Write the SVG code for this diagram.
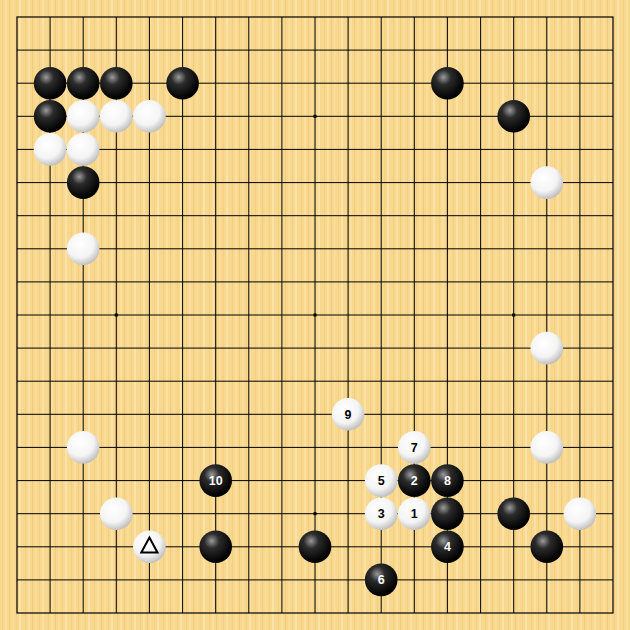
<svg xmlns="http://www.w3.org/2000/svg" width="630" height="630" viewBox="0 0 630 630">
<defs>
<pattern id="wood" x="0" y="0" width="23" height="630" patternUnits="userSpaceOnUse">
<rect width="23" height="630" fill="#F8D88E"/>
<rect x="2" width="1" height="630" fill="#F4CF7C"/>
<rect x="5" width="2" height="630" fill="#FADFA0"/>
<rect x="9" width="1" height="630" fill="#F3CC78"/>
<rect x="12" width="2" height="630" fill="#F9DC98"/>
<rect x="16" width="1" height="630" fill="#F5D080"/>
<rect x="19" width="2" height="630" fill="#FBE2A6"/>
</pattern>
<radialGradient id="gb" cx="0.38" cy="0.32" r="0.65">
<stop offset="0" stop-color="#9a9a9a"/>
<stop offset="0.35" stop-color="#2c2c2c"/>
<stop offset="1" stop-color="#000"/>
</radialGradient>
<radialGradient id="gw" cx="0.4" cy="0.35" r="0.7">
<stop offset="0" stop-color="#ffffff"/>
<stop offset="0.6" stop-color="#f4f4f4"/>
<stop offset="1" stop-color="#b8b8b8"/>
</radialGradient>
<circle id="b" r="16.3" fill="url(#gb)"/>
<circle id="w" r="16.3" fill="url(#gw)"/>
</defs>
<style>
.grid line{stroke:#000;stroke-width:1}
.lb{font-family:"Liberation Sans",Arial,sans-serif;font-size:12.5px;font-weight:bold;text-anchor:middle}
.onb{fill:#fff}
.onw{fill:#000}
</style>
<rect width="630" height="630" fill="url(#wood)"/>
<g id="connectors" class="grid">
<rect x="17" y="17" width="596" height="596" fill="none" stroke="#000" stroke-width="1.2"/>
<line x1="50.1" y1="17" x2="50.1" y2="613"/><line x1="83.2" y1="17" x2="83.2" y2="613"/><line x1="116.3" y1="17" x2="116.3" y2="613"/><line x1="149.4" y1="17" x2="149.4" y2="613"/><line x1="182.6" y1="17" x2="182.6" y2="613"/><line x1="215.7" y1="17" x2="215.7" y2="613"/><line x1="248.8" y1="17" x2="248.8" y2="613"/><line x1="281.9" y1="17" x2="281.9" y2="613"/><line x1="315" y1="17" x2="315" y2="613"/><line x1="348.1" y1="17" x2="348.1" y2="613"/><line x1="381.2" y1="17" x2="381.2" y2="613"/><line x1="414.3" y1="17" x2="414.3" y2="613"/><line x1="447.4" y1="17" x2="447.4" y2="613"/><line x1="480.6" y1="17" x2="480.6" y2="613"/><line x1="513.7" y1="17" x2="513.7" y2="613"/><line x1="546.8" y1="17" x2="546.8" y2="613"/><line x1="579.9" y1="17" x2="579.9" y2="613"/>
<line y1="50.1" x1="17" y2="50.1" x2="613"/><line y1="83.2" x1="17" y2="83.2" x2="613"/><line y1="116.3" x1="17" y2="116.3" x2="613"/><line y1="149.4" x1="17" y2="149.4" x2="613"/><line y1="182.6" x1="17" y2="182.6" x2="613"/><line y1="215.7" x1="17" y2="215.7" x2="613"/><line y1="248.8" x1="17" y2="248.8" x2="613"/><line y1="281.9" x1="17" y2="281.9" x2="613"/><line y1="315" x1="17" y2="315" x2="613"/><line y1="348.1" x1="17" y2="348.1" x2="613"/><line y1="381.2" x1="17" y2="381.2" x2="613"/><line y1="414.3" x1="17" y2="414.3" x2="613"/><line y1="447.4" x1="17" y2="447.4" x2="613"/><line y1="480.6" x1="17" y2="480.6" x2="613"/><line y1="513.7" x1="17" y2="513.7" x2="613"/><line y1="546.8" x1="17" y2="546.8" x2="613"/><line y1="579.9" x1="17" y2="579.9" x2="613"/>
</g>
<g id="hoshi" fill="#000">
<rect x="313.5" y="114.8" width="3" height="3"/>
<rect x="114.8" y="313.5" width="3" height="3"/>
<rect x="313.5" y="313.5" width="3" height="3"/>
<rect x="512.2" y="313.5" width="3" height="3"/>
<rect x="313.5" y="512.2" width="3" height="3"/>
</g>
<g id="stones">
<use href="#b" x="50.1" y="83.2"/><use href="#b" x="83.2" y="83.2"/><use href="#b" x="116.3" y="83.2"/><use href="#b" x="182.6" y="83.2"/><use href="#b" x="447.4" y="83.2"/>
<use href="#b" x="50.1" y="116.3"/><use href="#w" x="83.2" y="116.3"/><use href="#w" x="116.3" y="116.3"/><use href="#w" x="149.4" y="116.3"/><use href="#b" x="513.7" y="116.3"/>
<use href="#w" x="50.1" y="149.4"/><use href="#w" x="83.2" y="149.4"/>
<use href="#b" x="83.2" y="182.6"/><use href="#w" x="546.8" y="182.6"/>
<use href="#w" x="83.2" y="248.8"/>
<use href="#w" x="546.8" y="348.1"/>
<use href="#w" x="83.2" y="447.4"/><use href="#w" x="546.8" y="447.4"/>
<use href="#w" x="116.3" y="513.7"/><use href="#b" x="447.4" y="513.7"/><use href="#b" x="513.7" y="513.7"/><use href="#w" x="579.9" y="513.7"/>
<use href="#b" x="215.7" y="546.8"/><use href="#b" x="315" y="546.8"/><use href="#b" x="546.8" y="546.8"/>
</g>
<g id="m1"><use href="#w" x="414.3" y="513.7"/><text class="lb onw" x="414.3" y="518.2">1</text></g>
<g id="m2"><use href="#b" x="414.3" y="480.6"/><text class="lb onb" x="414.3" y="485.1">2</text></g>
<g id="m3"><use href="#w" x="381.2" y="513.7"/><text class="lb onw" x="381.2" y="518.2">3</text></g>
<g id="m4"><use href="#b" x="447.4" y="546.8"/><text class="lb onb" x="447.4" y="551.3">4</text></g>
<g id="m5"><use href="#w" x="381.2" y="480.6"/><text class="lb onw" x="381.2" y="485.1">5</text></g>
<g id="m6"><use href="#b" x="381.2" y="579.9"/><text class="lb onb" x="381.2" y="584.4">6</text></g>
<g id="m7"><use href="#w" x="414.3" y="447.4"/><text class="lb onw" x="414.3" y="451.9">7</text></g>
<g id="m8"><use href="#b" x="447.4" y="480.6"/><text class="lb onb" x="447.4" y="485.1">8</text></g>
<g id="m9"><use href="#w" x="348.1" y="414.3"/><text class="lb onw" x="348.1" y="418.8">9</text></g>
<g id="m10"><use href="#b" x="215.7" y="480.6"/><text class="lb onb" x="215.7" y="485.1">10</text></g>
<g id="tri"><use href="#w" x="149.4" y="546.8"/><polygon points="149.4,537.5 157.5,552.5 141.3,552.5" fill="none" stroke="#000" stroke-width="2"/></g>
</svg>
